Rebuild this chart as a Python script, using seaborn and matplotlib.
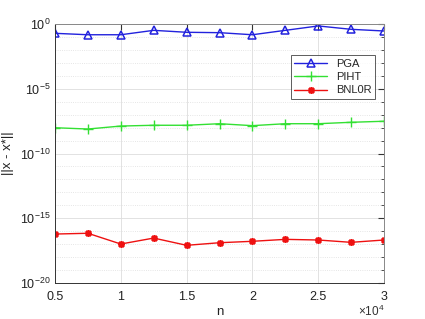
import numpy as np
import pandas as pd
import seaborn as sns
import matplotlib.pyplot as plt
from matplotlib.ticker import NullFormatter

# data (log10 of the error)
n = [5000, 7500, 10000, 12500, 15000, 17500, 20000, 22500, 25000, 27500, 30000]
pga_log = [-0.72, -0.83, -0.83, -0.49, -0.64, -0.67, -0.83, -0.49, -0.15, -0.41, -0.54]
piht_log = [-8.01, -8.11, -7.88, -7.82, -7.82, -7.70, -7.85, -7.70, -7.70, -7.59, -7.51]
bnl0r_log = [-16.22, -16.16, -16.99, -16.53, -17.09, -16.89, -16.78, -16.63, -16.68, -16.86, -16.68]
x_ticks = [5000, 10000, 15000, 20000, 25000, 30000]
x_labels = ['0.5', '1', '1.5', '2', '2.5', '3']

sns.set_style('white')
plt.rcParams['font.family'] = ['Liberation Sans', 'DejaVu Sans']
plt.rcParams['mathtext.default'] = 'regular'

fig = plt.figure(figsize=(4.25, 3.19), dpi=100)
ax = fig.add_axes([55 / 425, 1 - 283 / 319, (384 - 55) / 425, (283 - 24) / 319])

#plots the three methods
blue, green, red = '#2222dd', '#33e033', '#ee1111'
sns.lineplot(x=n, y=10 ** np.array(pga_log), ax=ax, color=blue, marker='^',
             markersize=6, markerfacecolor='none', markeredgecolor=blue,
             markeredgewidth=1.1, linewidth=1.0, linestyle='-', label='PGA')
sns.lineplot(x=n, y=10 ** np.array(piht_log), ax=ax, color=green, marker='+',
             markersize=7, markeredgecolor=green, markeredgewidth=1.0,
             linewidth=1.0, linestyle='-', label='PIHT')
sns.lineplot(x=n, y=10 ** np.array(bnl0r_log), ax=ax, color=red, marker=(8, 2, 0),
             markersize=5, markeredgecolor=red, markeredgewidth=1.2,
             linewidth=1.0, linestyle='-', label='BNL0R')

ax.set_yscale('log')
ax.set_ylim(1e-20, 1)
ax.set_xlim(5000, 30000)
ax.set_yticks([1e-20, 1e-15, 1e-10, 1e-5, 1])
ax.set_yticklabels(['$10^{-20}$', '$10^{-15}$', '$10^{-10}$', '$10^{-5}$', '$10^{0}$'])
ax.set_yticks([10.0 ** k for k in range(-19, 0) if k % 5 != 0], minor=True)
ax.yaxis.set_minor_formatter(NullFormatter())
ax.set_xticks(x_ticks)
ax.set_xticklabels(x_labels)
ax.text(1.0, -0.127, r'$\times$10$^4$', transform=ax.transAxes, ha='right',
        va='baseline', fontsize=8.5, color='#333333')

#matlab style grid
ax.grid(which='major', color='#dddddd', linewidth=0.6)
ax.grid(which='minor', axis='y', color='#dddddd', linestyle=':', linewidth=0.6)
ax.tick_params(which='both', direction='in', top=True, right=True, colors='#333333',
               labelsize=9, labelcolor='#222222')
ax.tick_params(which='major', length=4)
ax.tick_params(which='minor', length=2)
ax.tick_params(axis='x', pad=6)
for s in ax.spines.values():
    s.set_color('#333333')
    s.set_linewidth(0.7)
ax.spines['top'].set_color('#888888')
ax.spines['right'].set_color('#888888')

ax.set_xlabel('n', fontsize=9.5, color='#222222', labelpad=2)
ax.set_ylabel('||x - x*||', fontsize=9.5, color='#222222')

leg = ax.legend(loc='upper right', bbox_to_anchor=(0.99, 0.9), fontsize=8,
                frameon=True, fancybox=False, edgecolor='#333333',
                handlelength=3, borderpad=0.3, labelspacing=0.3)
leg.get_frame().set_linewidth(0.7)

plt.savefig('out.png', dpi=100)
